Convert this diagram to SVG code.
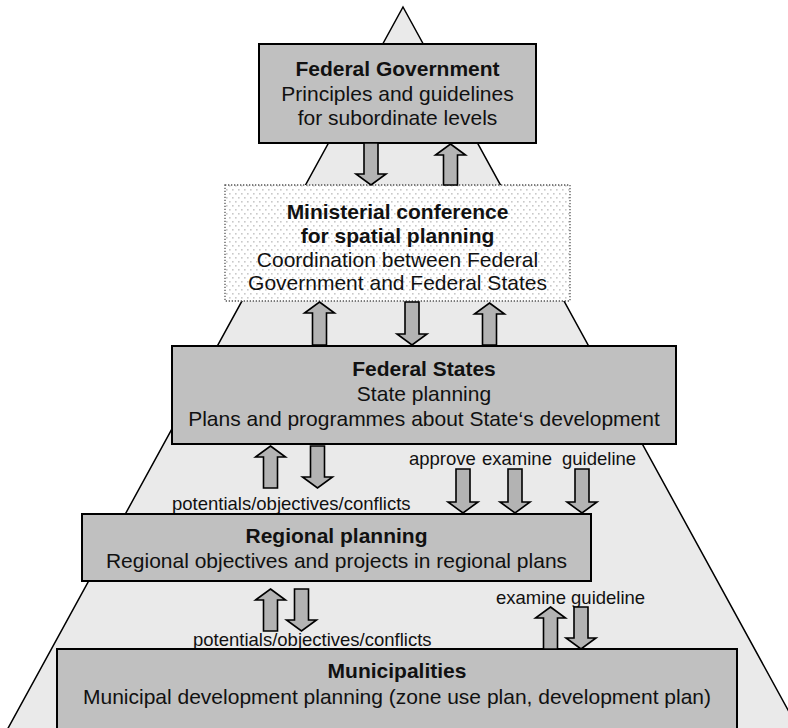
<svg xmlns="http://www.w3.org/2000/svg" width="788" height="728" viewBox="0 0 788 728">
  <defs>
    <!-- light dotted screen used for the coordination body -->
    <pattern id="dots" width="6" height="8" patternUnits="userSpaceOnUse">
      <rect width="6" height="8" fill="#ffffff"/>
      <rect x="1" y="1" width="1.6" height="1.6" fill="#c9c9c9"/>
      <rect x="4" y="5" width="1.6" height="1.6" fill="#c9c9c9"/>
    </pattern>
    <style>
      .level { fill: #c0c0c0; stroke: #000; stroke-width: 2; }
      .coord { fill: url(#dots); stroke: #555; stroke-width: 1.3; stroke-dasharray: 1.3 1.7; }
      .arrow { fill: #b3b3b3; stroke: #000; stroke-width: 1.6; stroke-linejoin: miter; }
      text { font-family: "Liberation Sans", Arial, sans-serif; fill: #111; text-anchor: middle; }
      .t { font-size: 21px; }
      .b { font-size: 21px; font-weight: bold; }
      .lbl { font-size: 18.5px; text-anchor: start; }
    </style>
  </defs>

  <rect width="788" height="728" fill="#ffffff"/>

  <!-- hierarchy pyramid -->
  <polygon id="pyramid" points="403,7 811,752 -5,752" fill="#eaeaea" stroke="#000" stroke-width="1.5"/>

  <!-- flow labels (sit under the boxes) -->
  <g id="labels">
    <text class="lbl" x="172" y="510">potentials/objectives/conflicts</text>
    <text class="lbl" x="409" y="465">approve</text>
    <text class="lbl" x="482" y="465">examine</text>
    <text class="lbl" x="562" y="465">guideline</text>
    <text class="lbl" x="193" y="646">potentials/objectives/conflicts</text>
    <text class="lbl" x="496" y="604">examine guideline</text>
  </g>

  <g id="federal-government">
    <rect class="level" x="259" y="44" width="277" height="99"/>
    <text class="b" x="397.5" y="76">Federal Government</text>
    <text class="t" x="397.5" y="100.5">Principles and guidelines</text>
    <text class="t" x="397.5" y="125">for subordinate levels</text>
  </g>

  <g id="ministerial-conference">
    <rect class="coord" x="225" y="185" width="345" height="116"/>
    <text class="b" x="397.5" y="219">Ministerial conference</text>
    <text class="b" x="397.5" y="243">for spatial planning</text>
    <text class="t" x="397.5" y="266.5">Coordination between Federal</text>
    <text class="t" x="397.5" y="290">Government and Federal States</text>
  </g>

  <g id="federal-states">
    <rect class="level" x="172" y="346" width="504" height="98"/>
    <text class="b" x="424" y="376">Federal States</text>
    <text class="t" x="424" y="401">State planning</text>
    <text class="t" x="424" y="426">Plans and programmes about State‘s development</text>
  </g>

  <g id="regional-planning">
    <rect class="level" x="82" y="514" width="509" height="67"/>
    <text class="b" x="336.5" y="543">Regional planning</text>
    <text class="t" x="336.5" y="568">Regional objectives and projects in regional plans</text>
  </g>

  <g id="municipalities">
    <rect class="level" x="57" y="649" width="680" height="100"/>
    <text class="b" x="397" y="678">Municipalities</text>
    <text class="t" x="397" y="704">Municipal development planning (zone use plan, development plan)</text>
  </g>

  <!-- block arrows between levels -->
  <g id="connectors">
    <!-- federal government <-> ministerial conference -->
    <path class="arrow" d="M364,143 H378 V174 H386 L371,185 L356,174 H364 Z"/>
    <path class="arrow" d="M450.5,144 L465.5,155 H457.5 V185 H443.5 V155 H435.5 Z"/>
    <!-- ministerial conference <-> federal states -->
    <path class="arrow" d="M319.5,302 L334.5,313 H326.5 V345 H312.5 V313 H304.5 Z"/>
    <path class="arrow" d="M405,302 H419 V334 H427 L412,345 L397,334 H405 Z"/>
    <path class="arrow" d="M489.5,303 L504.5,314 H496.5 V345 H482.5 V314 H474.5 Z"/>
    <!-- federal states <-> regional planning -->
    <path class="arrow" d="M270.5,446 L285.5,457 H277.5 V488 H263.5 V457 H255.5 Z"/>
    <path class="arrow" d="M310.5,446 H324.5 V477 H332.5 L317.5,488 L302.5,477 H310.5 Z"/>
    <path class="arrow" d="M456,469 H470 V502 H478 L463,513 L448,502 H456 Z"/>
    <path class="arrow" d="M508,469 H522 V502 H530 L515,513 L500,502 H508 Z"/>
    <path class="arrow" d="M575,469 H589 V502 H597 L582,513 L567,502 H575 Z"/>
    <!-- regional planning <-> municipalities -->
    <path class="arrow" d="M270.5,589 L285.5,600 H277.5 V631 H263.5 V600 H255.5 Z"/>
    <path class="arrow" d="M294.5,589 H308.5 V620 H316.5 L301.5,631 L286.5,620 H294.5 Z"/>
    <path class="arrow" d="M550.5,607 L565.5,618 H557.5 V649 H543.5 V618 H535.5 Z"/>
    <path class="arrow" d="M574,607 H588 V638 H596 L581,649 L566,638 H574 Z"/>
  </g>
</svg>
